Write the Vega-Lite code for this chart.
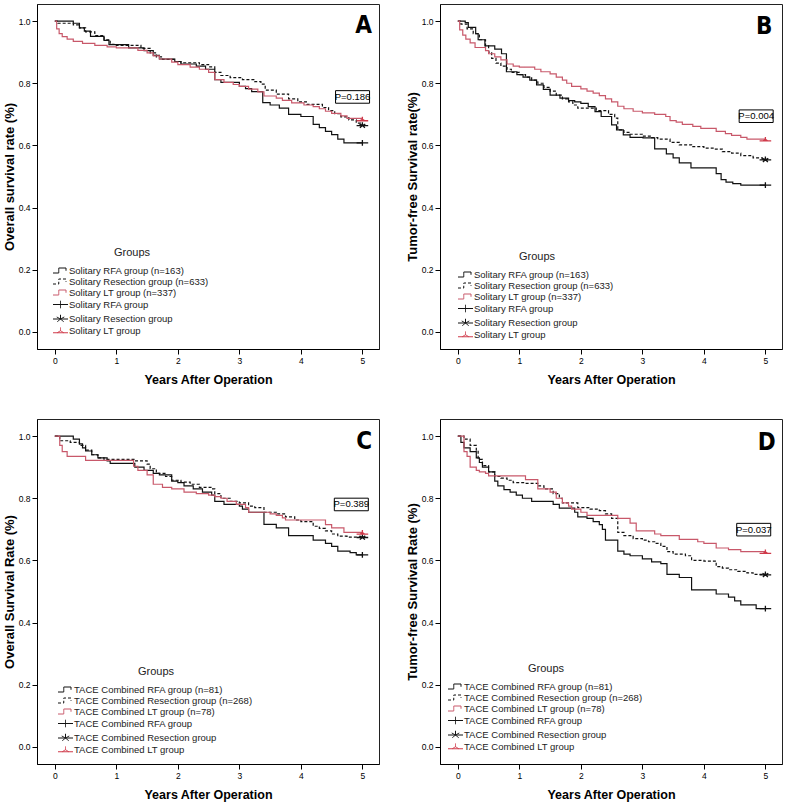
{
"$schema":"https://vega.github.io/schema/vega-lite/v6.json",
"background":"white",
"padding":{"left":2,"top":3,"right":0,"bottom":0},
"bounds":"flush",
"columns":2,
"spacing":{"row":70,"column":61},
"resolve":{"scale":{"color":"independent","shape":"independent","strokeDash":"independent","x":"independent","y":"independent"},"legend":{"color":"independent","shape":"independent","strokeDash":"independent"}},
"datasets":{
"notes":[{"p":"A","pv":"P=0.186","letter":"A"},{"p":"B","pv":"P=0.004","letter":"B"},{"p":"C","pv":"P=0.389","letter":"C"},{"p":"D","pv":"P=0.037","letter":"D"}],
"ends":[
{"p":"A","g":"RFA","t":5,"s":0.608},{"p":"A","g":"Res","t":5,"s":0.665},{"p":"A","g":"LT","t":5,"s":0.685},
{"p":"B","g":"RFA","t":5,"s":0.472},{"p":"B","g":"Res","t":5,"s":0.555},{"p":"B","g":"LT","t":5,"s":0.62},
{"p":"C","g":"RFA","t":5,"s":0.618},{"p":"C","g":"Res","t":5,"s":0.675},{"p":"C","g":"LT","t":5,"s":0.69},
{"p":"D","g":"RFA","t":5,"s":0.445},{"p":"D","g":"Res","t":5,"s":0.555},{"p":"D","g":"LT","t":5,"s":0.628}],
"km":[
{"p":"A","g":"RFA_n","t":0,"s":1},{"p":"A","g":"RFA_n","t":0.3,"s":0.993},{"p":"A","g":"RFA_n","t":0.4,"s":0.978},{"p":"A","g":"RFA_n","t":0.48,"s":0.968},{"p":"A","g":"RFA_n","t":0.58,"s":0.951},{"p":"A","g":"RFA_n","t":0.8,"s":0.938},{"p":"A","g":"RFA_n","t":0.88,"s":0.924},{"p":"A","g":"RFA_n","t":1.2,"s":0.914},{"p":"A","g":"RFA_n","t":1.45,"s":0.905},{"p":"A","g":"RFA_n","t":1.6,"s":0.89},{"p":"A","g":"RFA_n","t":1.7,"s":0.878},{"p":"A","g":"RFA_n","t":1.95,"s":0.87},{"p":"A","g":"RFA_n","t":2.05,"s":0.862},{"p":"A","g":"RFA_n","t":2.3,"s":0.855},{"p":"A","g":"RFA_n","t":2.45,"s":0.845},{"p":"A","g":"RFA_n","t":2.6,"s":0.812},{"p":"A","g":"RFA_n","t":2.7,"s":0.803},{"p":"A","g":"RFA_n","t":3.0,"s":0.79},{"p":"A","g":"RFA_n","t":3.1,"s":0.783},{"p":"A","g":"RFA_n","t":3.2,"s":0.773},{"p":"A","g":"RFA_n","t":3.38,"s":0.738},{"p":"A","g":"RFA_n","t":3.5,"s":0.73},{"p":"A","g":"RFA_n","t":3.65,"s":0.72},{"p":"A","g":"RFA_n","t":3.8,"s":0.7},{"p":"A","g":"RFA_n","t":4.0,"s":0.693},{"p":"A","g":"RFA_n","t":4.2,"s":0.668},{"p":"A","g":"RFA_n","t":4.3,"s":0.657},{"p":"A","g":"RFA_n","t":4.4,"s":0.645},{"p":"A","g":"RFA_n","t":4.5,"s":0.635},{"p":"A","g":"RFA_n","t":4.6,"s":0.62},{"p":"A","g":"RFA_n","t":4.7,"s":0.608},{"p":"A","g":"RFA_n","t":5.0,"s":0.608},
{"p":"A","g":"Res_n","t":0,"s":1},{"p":"A","g":"Res_n","t":0.05,"s":0.993},{"p":"A","g":"Res_n","t":0.3,"s":0.988},{"p":"A","g":"Res_n","t":0.4,"s":0.978},{"p":"A","g":"Res_n","t":0.5,"s":0.965},{"p":"A","g":"Res_n","t":0.65,"s":0.953},{"p":"A","g":"Res_n","t":0.8,"s":0.94},{"p":"A","g":"Res_n","t":0.9,"s":0.925},{"p":"A","g":"Res_n","t":1.0,"s":0.922},{"p":"A","g":"Res_n","t":1.4,"s":0.912},{"p":"A","g":"Res_n","t":1.55,"s":0.898},{"p":"A","g":"Res_n","t":1.65,"s":0.885},{"p":"A","g":"Res_n","t":1.75,"s":0.877},{"p":"A","g":"Res_n","t":1.95,"s":0.87},{"p":"A","g":"Res_n","t":2.05,"s":0.866},{"p":"A","g":"Res_n","t":2.35,"s":0.86},{"p":"A","g":"Res_n","t":2.5,"s":0.853},{"p":"A","g":"Res_n","t":2.6,"s":0.835},{"p":"A","g":"Res_n","t":2.7,"s":0.825},{"p":"A","g":"Res_n","t":2.85,"s":0.818},{"p":"A","g":"Res_n","t":3.05,"s":0.812},{"p":"A","g":"Res_n","t":3.25,"s":0.805},{"p":"A","g":"Res_n","t":3.35,"s":0.797},{"p":"A","g":"Res_n","t":3.42,"s":0.778},{"p":"A","g":"Res_n","t":3.6,"s":0.765},{"p":"A","g":"Res_n","t":3.8,"s":0.75},{"p":"A","g":"Res_n","t":3.95,"s":0.74},{"p":"A","g":"Res_n","t":4.1,"s":0.732},{"p":"A","g":"Res_n","t":4.35,"s":0.722},{"p":"A","g":"Res_n","t":4.45,"s":0.712},{"p":"A","g":"Res_n","t":4.55,"s":0.702},{"p":"A","g":"Res_n","t":4.65,"s":0.692},{"p":"A","g":"Res_n","t":4.78,"s":0.682},{"p":"A","g":"Res_n","t":4.9,"s":0.672},{"p":"A","g":"Res_n","t":4.97,"s":0.665},{"p":"A","g":"Res_n","t":5.0,"s":0.665},
{"p":"A","g":"LT_n","t":0,"s":1},{"p":"A","g":"LT_n","t":0.03,"s":0.975},{"p":"A","g":"LT_n","t":0.07,"s":0.96},{"p":"A","g":"LT_n","t":0.12,"s":0.95},{"p":"A","g":"LT_n","t":0.2,"s":0.942},{"p":"A","g":"LT_n","t":0.3,"s":0.935},{"p":"A","g":"LT_n","t":0.45,"s":0.928},{"p":"A","g":"LT_n","t":0.65,"s":0.922},{"p":"A","g":"LT_n","t":0.85,"s":0.917},{"p":"A","g":"LT_n","t":1.0,"s":0.914},{"p":"A","g":"LT_n","t":1.35,"s":0.906},{"p":"A","g":"LT_n","t":1.5,"s":0.898},{"p":"A","g":"LT_n","t":1.6,"s":0.888},{"p":"A","g":"LT_n","t":1.7,"s":0.878},{"p":"A","g":"LT_n","t":1.9,"s":0.868},{"p":"A","g":"LT_n","t":2.0,"s":0.86},{"p":"A","g":"LT_n","t":2.2,"s":0.852},{"p":"A","g":"LT_n","t":2.35,"s":0.845},{"p":"A","g":"LT_n","t":2.5,"s":0.835},{"p":"A","g":"LT_n","t":2.6,"s":0.812},{"p":"A","g":"LT_n","t":2.75,"s":0.803},{"p":"A","g":"LT_n","t":2.9,"s":0.796},{"p":"A","g":"LT_n","t":3.0,"s":0.79},{"p":"A","g":"LT_n","t":3.15,"s":0.781},{"p":"A","g":"LT_n","t":3.3,"s":0.772},{"p":"A","g":"LT_n","t":3.4,"s":0.759},{"p":"A","g":"LT_n","t":3.6,"s":0.752},{"p":"A","g":"LT_n","t":3.7,"s":0.745},{"p":"A","g":"LT_n","t":3.85,"s":0.737},{"p":"A","g":"LT_n","t":4.05,"s":0.73},{"p":"A","g":"LT_n","t":4.2,"s":0.725},{"p":"A","g":"LT_n","t":4.3,"s":0.718},{"p":"A","g":"LT_n","t":4.4,"s":0.71},{"p":"A","g":"LT_n","t":4.5,"s":0.703},{"p":"A","g":"LT_n","t":4.65,"s":0.695},{"p":"A","g":"LT_n","t":4.75,"s":0.687},{"p":"A","g":"LT_n","t":5.0,"s":0.685},
{"p":"B","g":"RFA_n","t":0,"s":1},{"p":"B","g":"RFA_n","t":0.12,"s":0.995},{"p":"B","g":"RFA_n","t":0.17,"s":0.98},{"p":"B","g":"RFA_n","t":0.29,"s":0.96},{"p":"B","g":"RFA_n","t":0.33,"s":0.94},{"p":"B","g":"RFA_n","t":0.44,"s":0.92},{"p":"B","g":"RFA_n","t":0.6,"s":0.91},{"p":"B","g":"RFA_n","t":0.71,"s":0.895},{"p":"B","g":"RFA_n","t":0.79,"s":0.837},{"p":"B","g":"RFA_n","t":0.96,"s":0.828},{"p":"B","g":"RFA_n","t":1.06,"s":0.82},{"p":"B","g":"RFA_n","t":1.17,"s":0.81},{"p":"B","g":"RFA_n","t":1.28,"s":0.795},{"p":"B","g":"RFA_n","t":1.39,"s":0.78},{"p":"B","g":"RFA_n","t":1.5,"s":0.762},{"p":"B","g":"RFA_n","t":1.66,"s":0.752},{"p":"B","g":"RFA_n","t":1.8,"s":0.744},{"p":"B","g":"RFA_n","t":1.9,"s":0.74},{"p":"B","g":"RFA_n","t":2.0,"s":0.735},{"p":"B","g":"RFA_n","t":2.12,"s":0.725},{"p":"B","g":"RFA_n","t":2.23,"s":0.709},{"p":"B","g":"RFA_n","t":2.33,"s":0.693},{"p":"B","g":"RFA_n","t":2.5,"s":0.666},{"p":"B","g":"RFA_n","t":2.58,"s":0.65},{"p":"B","g":"RFA_n","t":2.69,"s":0.634},{"p":"B","g":"RFA_n","t":2.8,"s":0.626},{"p":"B","g":"RFA_n","t":3.01,"s":0.624},{"p":"B","g":"RFA_n","t":3.2,"s":0.589},{"p":"B","g":"RFA_n","t":3.39,"s":0.573},{"p":"B","g":"RFA_n","t":3.5,"s":0.56},{"p":"B","g":"RFA_n","t":3.6,"s":0.544},{"p":"B","g":"RFA_n","t":3.79,"s":0.528},{"p":"B","g":"RFA_n","t":4.2,"s":0.509},{"p":"B","g":"RFA_n","t":4.28,"s":0.49},{"p":"B","g":"RFA_n","t":4.36,"s":0.482},{"p":"B","g":"RFA_n","t":4.47,"s":0.477},{"p":"B","g":"RFA_n","t":4.6,"s":0.472},{"p":"B","g":"RFA_n","t":5.0,"s":0.472},
{"p":"B","g":"Res_n","t":0,"s":1},{"p":"B","g":"Res_n","t":0.05,"s":0.99},{"p":"B","g":"Res_n","t":0.15,"s":0.975},{"p":"B","g":"Res_n","t":0.25,"s":0.96},{"p":"B","g":"Res_n","t":0.35,"s":0.94},{"p":"B","g":"Res_n","t":0.45,"s":0.92},{"p":"B","g":"Res_n","t":0.5,"s":0.9},{"p":"B","g":"Res_n","t":0.55,"s":0.88},{"p":"B","g":"Res_n","t":0.62,"s":0.865},{"p":"B","g":"Res_n","t":0.7,"s":0.855},{"p":"B","g":"Res_n","t":0.8,"s":0.845},{"p":"B","g":"Res_n","t":0.87,"s":0.835},{"p":"B","g":"Res_n","t":1.0,"s":0.828},{"p":"B","g":"Res_n","t":1.1,"s":0.82},{"p":"B","g":"Res_n","t":1.2,"s":0.81},{"p":"B","g":"Res_n","t":1.3,"s":0.8},{"p":"B","g":"Res_n","t":1.4,"s":0.787},{"p":"B","g":"Res_n","t":1.5,"s":0.775},{"p":"B","g":"Res_n","t":1.6,"s":0.762},{"p":"B","g":"Res_n","t":1.7,"s":0.75},{"p":"B","g":"Res_n","t":1.8,"s":0.74},{"p":"B","g":"Res_n","t":1.87,"s":0.73},{"p":"B","g":"Res_n","t":1.95,"s":0.72},{"p":"B","g":"Res_n","t":2.25,"s":0.712},{"p":"B","g":"Res_n","t":2.45,"s":0.7},{"p":"B","g":"Res_n","t":2.55,"s":0.688},{"p":"B","g":"Res_n","t":2.6,"s":0.65},{"p":"B","g":"Res_n","t":2.7,"s":0.642},{"p":"B","g":"Res_n","t":2.8,"s":0.636},{"p":"B","g":"Res_n","t":3.0,"s":0.63},{"p":"B","g":"Res_n","t":3.15,"s":0.625},{"p":"B","g":"Res_n","t":3.25,"s":0.62},{"p":"B","g":"Res_n","t":3.45,"s":0.61},{"p":"B","g":"Res_n","t":3.6,"s":0.602},{"p":"B","g":"Res_n","t":3.8,"s":0.596},{"p":"B","g":"Res_n","t":4.0,"s":0.591},{"p":"B","g":"Res_n","t":4.15,"s":0.588},{"p":"B","g":"Res_n","t":4.3,"s":0.58},{"p":"B","g":"Res_n","t":4.45,"s":0.575},{"p":"B","g":"Res_n","t":4.6,"s":0.567},{"p":"B","g":"Res_n","t":4.8,"s":0.56},{"p":"B","g":"Res_n","t":4.95,"s":0.555},{"p":"B","g":"Res_n","t":5.0,"s":0.555},
{"p":"B","g":"LT_n","t":0,"s":1},{"p":"B","g":"LT_n","t":0.03,"s":0.972},{"p":"B","g":"LT_n","t":0.08,"s":0.955},{"p":"B","g":"LT_n","t":0.13,"s":0.942},{"p":"B","g":"LT_n","t":0.2,"s":0.93},{"p":"B","g":"LT_n","t":0.28,"s":0.915},{"p":"B","g":"LT_n","t":0.45,"s":0.905},{"p":"B","g":"LT_n","t":0.5,"s":0.895},{"p":"B","g":"LT_n","t":0.6,"s":0.885},{"p":"B","g":"LT_n","t":0.7,"s":0.875},{"p":"B","g":"LT_n","t":0.8,"s":0.862},{"p":"B","g":"LT_n","t":0.9,"s":0.855},{"p":"B","g":"LT_n","t":1.0,"s":0.852},{"p":"B","g":"LT_n","t":1.25,"s":0.845},{"p":"B","g":"LT_n","t":1.35,"s":0.837},{"p":"B","g":"LT_n","t":1.5,"s":0.83},{"p":"B","g":"LT_n","t":1.6,"s":0.82},{"p":"B","g":"LT_n","t":1.7,"s":0.81},{"p":"B","g":"LT_n","t":1.77,"s":0.8},{"p":"B","g":"LT_n","t":1.85,"s":0.79},{"p":"B","g":"LT_n","t":2.0,"s":0.782},{"p":"B","g":"LT_n","t":2.1,"s":0.775},{"p":"B","g":"LT_n","t":2.2,"s":0.768},{"p":"B","g":"LT_n","t":2.3,"s":0.76},{"p":"B","g":"LT_n","t":2.4,"s":0.75},{"p":"B","g":"LT_n","t":2.5,"s":0.74},{"p":"B","g":"LT_n","t":2.6,"s":0.726},{"p":"B","g":"LT_n","t":2.7,"s":0.718},{"p":"B","g":"LT_n","t":2.85,"s":0.71},{"p":"B","g":"LT_n","t":3.0,"s":0.705},{"p":"B","g":"LT_n","t":3.2,"s":0.7},{"p":"B","g":"LT_n","t":3.38,"s":0.693},{"p":"B","g":"LT_n","t":3.45,"s":0.68},{"p":"B","g":"LT_n","t":3.55,"s":0.675},{"p":"B","g":"LT_n","t":3.65,"s":0.668},{"p":"B","g":"LT_n","t":3.82,"s":0.661},{"p":"B","g":"LT_n","t":3.95,"s":0.655},{"p":"B","g":"LT_n","t":4.2,"s":0.645},{"p":"B","g":"LT_n","t":4.35,"s":0.638},{"p":"B","g":"LT_n","t":4.45,"s":0.632},{"p":"B","g":"LT_n","t":4.6,"s":0.626},{"p":"B","g":"LT_n","t":4.7,"s":0.62},{"p":"B","g":"LT_n","t":5.0,"s":0.62},
{"p":"C","g":"RFA_n","t":0,"s":1},{"p":"C","g":"RFA_n","t":0.3,"s":0.99},{"p":"C","g":"RFA_n","t":0.4,"s":0.975},{"p":"C","g":"RFA_n","t":0.45,"s":0.962},{"p":"C","g":"RFA_n","t":0.5,"s":0.952},{"p":"C","g":"RFA_n","t":0.6,"s":0.94},{"p":"C","g":"RFA_n","t":0.7,"s":0.93},{"p":"C","g":"RFA_n","t":0.85,"s":0.92},{"p":"C","g":"RFA_n","t":0.9,"s":0.912},{"p":"C","g":"RFA_n","t":1.3,"s":0.9},{"p":"C","g":"RFA_n","t":1.45,"s":0.89},{"p":"C","g":"RFA_n","t":1.6,"s":0.88},{"p":"C","g":"RFA_n","t":1.7,"s":0.875},{"p":"C","g":"RFA_n","t":1.9,"s":0.855},{"p":"C","g":"RFA_n","t":2.0,"s":0.85},{"p":"C","g":"RFA_n","t":2.1,"s":0.84},{"p":"C","g":"RFA_n","t":2.25,"s":0.83},{"p":"C","g":"RFA_n","t":2.4,"s":0.82},{"p":"C","g":"RFA_n","t":2.55,"s":0.81},{"p":"C","g":"RFA_n","t":2.6,"s":0.79},{"p":"C","g":"RFA_n","t":2.75,"s":0.78},{"p":"C","g":"RFA_n","t":3.0,"s":0.775},{"p":"C","g":"RFA_n","t":3.05,"s":0.765},{"p":"C","g":"RFA_n","t":3.15,"s":0.755},{"p":"C","g":"RFA_n","t":3.4,"s":0.716},{"p":"C","g":"RFA_n","t":3.6,"s":0.705},{"p":"C","g":"RFA_n","t":3.8,"s":0.68},{"p":"C","g":"RFA_n","t":4.2,"s":0.665},{"p":"C","g":"RFA_n","t":4.4,"s":0.655},{"p":"C","g":"RFA_n","t":4.5,"s":0.645},{"p":"C","g":"RFA_n","t":4.6,"s":0.63},{"p":"C","g":"RFA_n","t":4.8,"s":0.625},{"p":"C","g":"RFA_n","t":4.9,"s":0.618},{"p":"C","g":"RFA_n","t":5.0,"s":0.618},
{"p":"C","g":"Res_n","t":0,"s":1},{"p":"C","g":"Res_n","t":0.08,"s":0.985},{"p":"C","g":"Res_n","t":0.25,"s":0.98},{"p":"C","g":"Res_n","t":0.4,"s":0.97},{"p":"C","g":"Res_n","t":0.5,"s":0.955},{"p":"C","g":"Res_n","t":0.6,"s":0.94},{"p":"C","g":"Res_n","t":0.7,"s":0.93},{"p":"C","g":"Res_n","t":0.8,"s":0.925},{"p":"C","g":"Res_n","t":1.3,"s":0.92},{"p":"C","g":"Res_n","t":1.5,"s":0.91},{"p":"C","g":"Res_n","t":1.55,"s":0.895},{"p":"C","g":"Res_n","t":1.65,"s":0.88},{"p":"C","g":"Res_n","t":1.8,"s":0.87},{"p":"C","g":"Res_n","t":1.9,"s":0.858},{"p":"C","g":"Res_n","t":2.05,"s":0.852},{"p":"C","g":"Res_n","t":2.2,"s":0.845},{"p":"C","g":"Res_n","t":2.35,"s":0.835},{"p":"C","g":"Res_n","t":2.55,"s":0.83},{"p":"C","g":"Res_n","t":2.6,"s":0.815},{"p":"C","g":"Res_n","t":2.7,"s":0.8},{"p":"C","g":"Res_n","t":2.85,"s":0.79},{"p":"C","g":"Res_n","t":3.0,"s":0.785},{"p":"C","g":"Res_n","t":3.15,"s":0.775},{"p":"C","g":"Res_n","t":3.25,"s":0.77},{"p":"C","g":"Res_n","t":3.4,"s":0.755},{"p":"C","g":"Res_n","t":3.6,"s":0.75},{"p":"C","g":"Res_n","t":3.75,"s":0.74},{"p":"C","g":"Res_n","t":3.9,"s":0.73},{"p":"C","g":"Res_n","t":4.0,"s":0.725},{"p":"C","g":"Res_n","t":4.2,"s":0.71},{"p":"C","g":"Res_n","t":4.3,"s":0.703},{"p":"C","g":"Res_n","t":4.4,"s":0.695},{"p":"C","g":"Res_n","t":4.5,"s":0.685},{"p":"C","g":"Res_n","t":4.6,"s":0.678},{"p":"C","g":"Res_n","t":4.75,"s":0.675},{"p":"C","g":"Res_n","t":5.0,"s":0.675},
{"p":"C","g":"LT_n","t":0,"s":1},{"p":"C","g":"LT_n","t":0.08,"s":0.97},{"p":"C","g":"LT_n","t":0.12,"s":0.95},{"p":"C","g":"LT_n","t":0.2,"s":0.935},{"p":"C","g":"LT_n","t":0.5,"s":0.922},{"p":"C","g":"LT_n","t":1.28,"s":0.903},{"p":"C","g":"LT_n","t":1.35,"s":0.89},{"p":"C","g":"LT_n","t":1.5,"s":0.875},{"p":"C","g":"LT_n","t":1.6,"s":0.845},{"p":"C","g":"LT_n","t":1.75,"s":0.835},{"p":"C","g":"LT_n","t":1.9,"s":0.83},{"p":"C","g":"LT_n","t":2.1,"s":0.82},{"p":"C","g":"LT_n","t":2.3,"s":0.815},{"p":"C","g":"LT_n","t":2.5,"s":0.81},{"p":"C","g":"LT_n","t":2.6,"s":0.805},{"p":"C","g":"LT_n","t":2.7,"s":0.8},{"p":"C","g":"LT_n","t":2.8,"s":0.79},{"p":"C","g":"LT_n","t":2.95,"s":0.78},{"p":"C","g":"LT_n","t":3.1,"s":0.77},{"p":"C","g":"LT_n","t":3.15,"s":0.755},{"p":"C","g":"LT_n","t":3.5,"s":0.75},{"p":"C","g":"LT_n","t":3.6,"s":0.745},{"p":"C","g":"LT_n","t":3.7,"s":0.737},{"p":"C","g":"LT_n","t":3.75,"s":0.73},{"p":"C","g":"LT_n","t":4.4,"s":0.715},{"p":"C","g":"LT_n","t":4.5,"s":0.705},{"p":"C","g":"LT_n","t":4.7,"s":0.69},{"p":"C","g":"LT_n","t":5.0,"s":0.69},
{"p":"D","g":"RFA_n","t":0,"s":1},{"p":"D","g":"RFA_n","t":0.05,"s":0.98},{"p":"D","g":"RFA_n","t":0.1,"s":0.962},{"p":"D","g":"RFA_n","t":0.2,"s":0.95},{"p":"D","g":"RFA_n","t":0.3,"s":0.93},{"p":"D","g":"RFA_n","t":0.35,"s":0.915},{"p":"D","g":"RFA_n","t":0.4,"s":0.9},{"p":"D","g":"RFA_n","t":0.5,"s":0.885},{"p":"D","g":"RFA_n","t":0.6,"s":0.855},{"p":"D","g":"RFA_n","t":0.65,"s":0.84},{"p":"D","g":"RFA_n","t":0.75,"s":0.828},{"p":"D","g":"RFA_n","t":0.85,"s":0.82},{"p":"D","g":"RFA_n","t":0.95,"s":0.81},{"p":"D","g":"RFA_n","t":1.05,"s":0.8},{"p":"D","g":"RFA_n","t":1.2,"s":0.79},{"p":"D","g":"RFA_n","t":1.55,"s":0.78},{"p":"D","g":"RFA_n","t":1.65,"s":0.768},{"p":"D","g":"RFA_n","t":1.9,"s":0.755},{"p":"D","g":"RFA_n","t":1.95,"s":0.74},{"p":"D","g":"RFA_n","t":2.1,"s":0.735},{"p":"D","g":"RFA_n","t":2.2,"s":0.725},{"p":"D","g":"RFA_n","t":2.3,"s":0.715},{"p":"D","g":"RFA_n","t":2.35,"s":0.7},{"p":"D","g":"RFA_n","t":2.4,"s":0.665},{"p":"D","g":"RFA_n","t":2.6,"s":0.63},{"p":"D","g":"RFA_n","t":2.7,"s":0.62},{"p":"D","g":"RFA_n","t":2.8,"s":0.615},{"p":"D","g":"RFA_n","t":3.0,"s":0.605},{"p":"D","g":"RFA_n","t":3.15,"s":0.595},{"p":"D","g":"RFA_n","t":3.3,"s":0.59},{"p":"D","g":"RFA_n","t":3.4,"s":0.555},{"p":"D","g":"RFA_n","t":3.6,"s":0.545},{"p":"D","g":"RFA_n","t":3.8,"s":0.505},{"p":"D","g":"RFA_n","t":4.2,"s":0.492},{"p":"D","g":"RFA_n","t":4.4,"s":0.482},{"p":"D","g":"RFA_n","t":4.5,"s":0.47},{"p":"D","g":"RFA_n","t":4.6,"s":0.457},{"p":"D","g":"RFA_n","t":4.85,"s":0.445},{"p":"D","g":"RFA_n","t":5.0,"s":0.445},
{"p":"D","g":"Res_n","t":0,"s":1},{"p":"D","g":"Res_n","t":0.1,"s":0.99},{"p":"D","g":"Res_n","t":0.2,"s":0.97},{"p":"D","g":"Res_n","t":0.3,"s":0.955},{"p":"D","g":"Res_n","t":0.33,"s":0.925},{"p":"D","g":"Res_n","t":0.4,"s":0.905},{"p":"D","g":"Res_n","t":0.5,"s":0.885},{"p":"D","g":"Res_n","t":0.6,"s":0.87},{"p":"D","g":"Res_n","t":0.7,"s":0.865},{"p":"D","g":"Res_n","t":0.8,"s":0.858},{"p":"D","g":"Res_n","t":0.9,"s":0.85},{"p":"D","g":"Res_n","t":1.1,"s":0.848},{"p":"D","g":"Res_n","t":1.3,"s":0.84},{"p":"D","g":"Res_n","t":1.4,"s":0.83},{"p":"D","g":"Res_n","t":1.55,"s":0.815},{"p":"D","g":"Res_n","t":1.65,"s":0.8},{"p":"D","g":"Res_n","t":1.7,"s":0.785},{"p":"D","g":"Res_n","t":1.95,"s":0.77},{"p":"D","g":"Res_n","t":2.15,"s":0.765},{"p":"D","g":"Res_n","t":2.3,"s":0.76},{"p":"D","g":"Res_n","t":2.4,"s":0.75},{"p":"D","g":"Res_n","t":2.5,"s":0.735},{"p":"D","g":"Res_n","t":2.6,"s":0.69},{"p":"D","g":"Res_n","t":2.7,"s":0.68},{"p":"D","g":"Res_n","t":2.85,"s":0.67},{"p":"D","g":"Res_n","t":3.0,"s":0.665},{"p":"D","g":"Res_n","t":3.1,"s":0.66},{"p":"D","g":"Res_n","t":3.2,"s":0.655},{"p":"D","g":"Res_n","t":3.3,"s":0.645},{"p":"D","g":"Res_n","t":3.4,"s":0.628},{"p":"D","g":"Res_n","t":3.5,"s":0.62},{"p":"D","g":"Res_n","t":3.7,"s":0.615},{"p":"D","g":"Res_n","t":3.8,"s":0.6},{"p":"D","g":"Res_n","t":4.0,"s":0.598},{"p":"D","g":"Res_n","t":4.2,"s":0.58},{"p":"D","g":"Res_n","t":4.3,"s":0.575},{"p":"D","g":"Res_n","t":4.4,"s":0.57},{"p":"D","g":"Res_n","t":4.55,"s":0.565},{"p":"D","g":"Res_n","t":4.7,"s":0.56},{"p":"D","g":"Res_n","t":4.8,"s":0.555},{"p":"D","g":"Res_n","t":5.0,"s":0.555},
{"p":"D","g":"LT_n","t":0,"s":1},{"p":"D","g":"LT_n","t":0.1,"s":0.95},{"p":"D","g":"LT_n","t":0.15,"s":0.935},{"p":"D","g":"LT_n","t":0.2,"s":0.9},{"p":"D","g":"LT_n","t":0.3,"s":0.89},{"p":"D","g":"LT_n","t":0.35,"s":0.885},{"p":"D","g":"LT_n","t":0.45,"s":0.88},{"p":"D","g":"LT_n","t":0.5,"s":0.872},{"p":"D","g":"LT_n","t":1.1,"s":0.86},{"p":"D","g":"LT_n","t":1.3,"s":0.83},{"p":"D","g":"LT_n","t":1.5,"s":0.82},{"p":"D","g":"LT_n","t":1.6,"s":0.8},{"p":"D","g":"LT_n","t":1.7,"s":0.785},{"p":"D","g":"LT_n","t":1.8,"s":0.775},{"p":"D","g":"LT_n","t":1.85,"s":0.765},{"p":"D","g":"LT_n","t":2.0,"s":0.755},{"p":"D","g":"LT_n","t":2.1,"s":0.745},{"p":"D","g":"LT_n","t":2.6,"s":0.735},{"p":"D","g":"LT_n","t":2.8,"s":0.72},{"p":"D","g":"LT_n","t":2.9,"s":0.695},{"p":"D","g":"LT_n","t":3.2,"s":0.685},{"p":"D","g":"LT_n","t":3.3,"s":0.68},{"p":"D","g":"LT_n","t":3.6,"s":0.668},{"p":"D","g":"LT_n","t":3.9,"s":0.66},{"p":"D","g":"LT_n","t":4.0,"s":0.655},{"p":"D","g":"LT_n","t":4.2,"s":0.64},{"p":"D","g":"LT_n","t":4.4,"s":0.635},{"p":"D","g":"LT_n","t":4.6,"s":0.628},{"p":"D","g":"LT_n","t":5.0,"s":0.628}
]},
"concat":[
{"width":342,"height":345,
 "layer":[
  {"data":{"name":"km"},"transform":[{"filter":"datum.p==='A'"}],"mark":{"type":"line","interpolate":"step-after","strokeWidth":1.2},
   "encoding":{"x":{"field":"t","type":"quantitative","scale":{"domain":[-0.29,5.27],"nice":false,"zero":false},"axis":{"values":[0,1,2,3,4,5],"format":"d","title":"Years After Operation"}},
    "y":{"field":"s","type":"quantitative","scale":{"domain":[-0.055,1.055],"nice":false,"zero":false},"axis":{"values":[0,0.2,0.4,0.6,0.8,1],"format":".1f","title":"Overall survival rate (%)"}},
    "color":{"field":"g","type":"nominal","scale":{"domain":["RFA_n","Res_n","LT_n","RFA","Res","LT"],"range":["#111111","#111111","#c8586a","#111111","#111111","#d03a4a"]},"legend":{"title":"Groups","orient":"none","legendX":18,"legendY":243,"labelExpr":"datum.value=='RFA_n'?'Solitary RFA group (n=163)':datum.value=='Res_n'?'Solitary Resection group (n=633)':datum.value=='LT_n'?'Solitary LT group (n=337)':datum.value=='RFA'?'Solitary RFA group':datum.value=='Res'?'Solitary Resection group':'Solitary LT group'"}},
    "strokeDash":{"field":"g","type":"nominal","scale":{"domain":["RFA_n","Res_n","LT_n","RFA","Res","LT"],"range":[[1,0],[3,2],[1,0],[1,0],[1,0],[1,0]]},"legend":{"title":"Groups","orient":"none","legendX":18,"legendY":243,"labelExpr":"datum.value=='RFA_n'?'Solitary RFA group (n=163)':datum.value=='Res_n'?'Solitary Resection group (n=633)':datum.value=='LT_n'?'Solitary LT group (n=337)':datum.value=='RFA'?'Solitary RFA group':datum.value=='Res'?'Solitary Resection group':'Solitary LT group'"}}}},
  {"data":{"name":"ends"},"transform":[{"filter":"datum.p==='A'"}],"mark":{"type":"point","filled":false,"size":60,"strokeWidth":1.3,"opacity":1},
   "encoding":{"x":{"field":"t","type":"quantitative"},"y":{"field":"s","type":"quantitative"},
    "color":{"field":"g","type":"nominal","scale":{"domain":["RFA_n","Res_n","LT_n","RFA","Res","LT"],"range":["#111111","#111111","#c8586a","#111111","#111111","#d03a4a"]},"legend":{"title":"Groups","orient":"none","legendX":18,"legendY":243,"labelExpr":"datum.value=='RFA_n'?'Solitary RFA group (n=163)':datum.value=='Res_n'?'Solitary Resection group (n=633)':datum.value=='LT_n'?'Solitary LT group (n=337)':datum.value=='RFA'?'Solitary RFA group':datum.value=='Res'?'Solitary Resection group':'Solitary LT group'"}},
    "shape":{"field":"g","type":"nominal","scale":{"domain":["RFA_n","Res_n","LT_n","RFA","Res","LT"],"range":["M-1.5,0.5H-0.35V-0.5H1.1V0.05","M-1.5,0.5H-0.35V-0.5H1.1V0.05","M-1.5,0.5H-0.35V-0.5H1.1V0.05","M-1.5,0H1.5M0,-0.75V0.75","M-1.5,0.1H1.5M0,0.1V-0.75M0,0.1L-0.65,0.65M0,0.1L0.65,0.65M0,0.1L-0.75,-0.3M0,0.1L0.75,-0.3","M-1.5,0.45H1.5M0,-0.6V0.05M0,0.05L-0.65,0.45M0,0.05L0.65,0.45"]},"legend":{"title":"Groups","orient":"none","legendX":18,"legendY":243,"labelExpr":"datum.value=='RFA_n'?'Solitary RFA group (n=163)':datum.value=='Res_n'?'Solitary Resection group (n=633)':datum.value=='LT_n'?'Solitary LT group (n=337)':datum.value=='RFA'?'Solitary RFA group':datum.value=='Res'?'Solitary Resection group':'Solitary LT group'"}}}},
  {"data":{"name":"notes"},"transform":[{"filter":"datum.p==='A'"}],"mark":{"type":"point","shape":"M-1,-0.37H1V0.37H-1Z","size":1156,"filled":false,"color":"#000","strokeWidth":1,"opacity":1},"encoding":{"x":{"datum":4.84,"type":"quantitative"},"y":{"datum":0.756,"type":"quantitative"}}},
  {"data":{"name":"notes"},"transform":[{"filter":"datum.p==='A'"}],"mark":{"type":"text","fontSize":9.5,"color":"#000"},"encoding":{"x":{"datum":4.84,"type":"quantitative"},"y":{"datum":0.756,"type":"quantitative"},"text":{"field":"pv"}}},
  {"data":{"name":"notes"},"transform":[{"filter":"datum.p==='A'"}],"mark":{"type":"text","fontSize":24,"fontWeight":"bold","font":"DejaVu Sans Condensed","color":"#000"},"encoding":{"x":{"datum":5.02,"type":"quantitative"},"y":{"datum":0.984,"type":"quantitative"},"text":{"field":"letter"}}}
 ]},
{"width":342,"height":345,
 "layer":[
  {"data":{"name":"km"},"transform":[{"filter":"datum.p==='B'"}],"mark":{"type":"line","interpolate":"step-after","strokeWidth":1.2},
   "encoding":{"x":{"field":"t","type":"quantitative","scale":{"domain":[-0.29,5.27],"nice":false,"zero":false},"axis":{"values":[0,1,2,3,4,5],"format":"d","title":"Years After Operation"}},
    "y":{"field":"s","type":"quantitative","scale":{"domain":[-0.055,1.055],"nice":false,"zero":false},"axis":{"values":[0,0.2,0.4,0.6,0.8,1],"format":".1f","title":"Tumor-free Survival rate(%)"}},
    "color":{"field":"g","type":"nominal","scale":{"domain":["RFA_n","Res_n","LT_n","RFA","Res","LT"],"range":["#111111","#111111","#c8586a","#111111","#111111","#d03a4a"]},"legend":{"title":"Groups","orient":"none","legendX":20,"legendY":247,"labelExpr":"datum.value=='RFA_n'?'Solitary RFA group (n=163)':datum.value=='Res_n'?'Solitary Resection group (n=633)':datum.value=='LT_n'?'Solitary LT group (n=337)':datum.value=='RFA'?'Solitary RFA group':datum.value=='Res'?'Solitary Resection group':'Solitary LT group'"}},
    "strokeDash":{"field":"g","type":"nominal","scale":{"domain":["RFA_n","Res_n","LT_n","RFA","Res","LT"],"range":[[1,0],[3,2],[1,0],[1,0],[1,0],[1,0]]},"legend":{"title":"Groups","orient":"none","legendX":20,"legendY":247,"labelExpr":"datum.value=='RFA_n'?'Solitary RFA group (n=163)':datum.value=='Res_n'?'Solitary Resection group (n=633)':datum.value=='LT_n'?'Solitary LT group (n=337)':datum.value=='RFA'?'Solitary RFA group':datum.value=='Res'?'Solitary Resection group':'Solitary LT group'"}}}},
  {"data":{"name":"ends"},"transform":[{"filter":"datum.p==='B'"}],"mark":{"type":"point","filled":false,"size":60,"strokeWidth":1.3,"opacity":1},
   "encoding":{"x":{"field":"t","type":"quantitative"},"y":{"field":"s","type":"quantitative"},
    "color":{"field":"g","type":"nominal","scale":{"domain":["RFA_n","Res_n","LT_n","RFA","Res","LT"],"range":["#111111","#111111","#c8586a","#111111","#111111","#d03a4a"]},"legend":{"title":"Groups","orient":"none","legendX":20,"legendY":247,"labelExpr":"datum.value=='RFA_n'?'Solitary RFA group (n=163)':datum.value=='Res_n'?'Solitary Resection group (n=633)':datum.value=='LT_n'?'Solitary LT group (n=337)':datum.value=='RFA'?'Solitary RFA group':datum.value=='Res'?'Solitary Resection group':'Solitary LT group'"}},
    "shape":{"field":"g","type":"nominal","scale":{"domain":["RFA_n","Res_n","LT_n","RFA","Res","LT"],"range":["M-1.5,0.5H-0.35V-0.5H1.1V0.05","M-1.5,0.5H-0.35V-0.5H1.1V0.05","M-1.5,0.5H-0.35V-0.5H1.1V0.05","M-1.5,0H1.5M0,-0.75V0.75","M-1.5,0.1H1.5M0,0.1V-0.75M0,0.1L-0.65,0.65M0,0.1L0.65,0.65M0,0.1L-0.75,-0.3M0,0.1L0.75,-0.3","M-1.5,0.45H1.5M0,-0.6V0.05M0,0.05L-0.65,0.45M0,0.05L0.65,0.45"]},"legend":{"title":"Groups","orient":"none","legendX":20,"legendY":247,"labelExpr":"datum.value=='RFA_n'?'Solitary RFA group (n=163)':datum.value=='Res_n'?'Solitary Resection group (n=633)':datum.value=='LT_n'?'Solitary LT group (n=337)':datum.value=='RFA'?'Solitary RFA group':datum.value=='Res'?'Solitary Resection group':'Solitary LT group'"}}}},
  {"data":{"name":"notes"},"transform":[{"filter":"datum.p==='B'"}],"mark":{"type":"point","shape":"M-1,-0.37H1V0.37H-1Z","size":1156,"filled":false,"color":"#000","strokeWidth":1,"opacity":1},"encoding":{"x":{"datum":4.85,"type":"quantitative"},"y":{"datum":0.694,"type":"quantitative"}}},
  {"data":{"name":"notes"},"transform":[{"filter":"datum.p==='B'"}],"mark":{"type":"text","fontSize":9.5,"color":"#000"},"encoding":{"x":{"datum":4.85,"type":"quantitative"},"y":{"datum":0.694,"type":"quantitative"},"text":{"field":"pv"}}},
  {"data":{"name":"notes"},"transform":[{"filter":"datum.p==='B'"}],"mark":{"type":"text","fontSize":24,"fontWeight":"bold","font":"DejaVu Sans Condensed","color":"#000"},"encoding":{"x":{"datum":4.98,"type":"quantitative"},"y":{"datum":0.98,"type":"quantitative"},"text":{"field":"letter"}}}
 ]},
{"width":342,"height":345,
 "layer":[
  {"data":{"name":"km"},"transform":[{"filter":"datum.p==='C'"}],"mark":{"type":"line","interpolate":"step-after","strokeWidth":1.2},
   "encoding":{"x":{"field":"t","type":"quantitative","scale":{"domain":[-0.29,5.27],"nice":false,"zero":false},"axis":{"values":[0,1,2,3,4,5],"format":"d","title":"Years After Operation"}},
    "y":{"field":"s","type":"quantitative","scale":{"domain":[-0.055,1.055],"nice":false,"zero":false},"axis":{"values":[0,0.2,0.4,0.6,0.8,1],"format":".1f","title":"Overall Survival Rate (%)"}},
    "color":{"field":"g","type":"nominal","scale":{"domain":["RFA_n","Res_n","LT_n","RFA","Res","LT"],"range":["#111111","#111111","#c8586a","#111111","#111111","#d03a4a"]},"legend":{"title":"Groups","orient":"none","legendX":23,"legendY":247,"labelExpr":"datum.value=='RFA_n'?'TACE Combined RFA group (n=81)':datum.value=='Res_n'?'TACE Combined Resection group (n=268)':datum.value=='LT_n'?'TACE Combined LT group (n=78)':datum.value=='RFA'?'TACE Combined RFA group':datum.value=='Res'?'TACE Combined Resection group':'TACE Combined LT group'"}},
    "strokeDash":{"field":"g","type":"nominal","scale":{"domain":["RFA_n","Res_n","LT_n","RFA","Res","LT"],"range":[[1,0],[3,2],[1,0],[1,0],[1,0],[1,0]]},"legend":{"title":"Groups","orient":"none","legendX":23,"legendY":247,"labelExpr":"datum.value=='RFA_n'?'TACE Combined RFA group (n=81)':datum.value=='Res_n'?'TACE Combined Resection group (n=268)':datum.value=='LT_n'?'TACE Combined LT group (n=78)':datum.value=='RFA'?'TACE Combined RFA group':datum.value=='Res'?'TACE Combined Resection group':'TACE Combined LT group'"}}}},
  {"data":{"name":"ends"},"transform":[{"filter":"datum.p==='C'"}],"mark":{"type":"point","filled":false,"size":60,"strokeWidth":1.3,"opacity":1},
   "encoding":{"x":{"field":"t","type":"quantitative"},"y":{"field":"s","type":"quantitative"},
    "color":{"field":"g","type":"nominal","scale":{"domain":["RFA_n","Res_n","LT_n","RFA","Res","LT"],"range":["#111111","#111111","#c8586a","#111111","#111111","#d03a4a"]},"legend":{"title":"Groups","orient":"none","legendX":23,"legendY":247,"labelExpr":"datum.value=='RFA_n'?'TACE Combined RFA group (n=81)':datum.value=='Res_n'?'TACE Combined Resection group (n=268)':datum.value=='LT_n'?'TACE Combined LT group (n=78)':datum.value=='RFA'?'TACE Combined RFA group':datum.value=='Res'?'TACE Combined Resection group':'TACE Combined LT group'"}},
    "shape":{"field":"g","type":"nominal","scale":{"domain":["RFA_n","Res_n","LT_n","RFA","Res","LT"],"range":["M-1.5,0.5H-0.35V-0.5H1.1V0.05","M-1.5,0.5H-0.35V-0.5H1.1V0.05","M-1.5,0.5H-0.35V-0.5H1.1V0.05","M-1.5,0H1.5M0,-0.75V0.75","M-1.5,0.1H1.5M0,0.1V-0.75M0,0.1L-0.65,0.65M0,0.1L0.65,0.65M0,0.1L-0.75,-0.3M0,0.1L0.75,-0.3","M-1.5,0.45H1.5M0,-0.6V0.05M0,0.05L-0.65,0.45M0,0.05L0.65,0.45"]},"legend":{"title":"Groups","orient":"none","legendX":23,"legendY":247,"labelExpr":"datum.value=='RFA_n'?'TACE Combined RFA group (n=81)':datum.value=='Res_n'?'TACE Combined Resection group (n=268)':datum.value=='LT_n'?'TACE Combined LT group (n=78)':datum.value=='RFA'?'TACE Combined RFA group':datum.value=='Res'?'TACE Combined Resection group':'TACE Combined LT group'"}}}},
  {"data":{"name":"notes"},"transform":[{"filter":"datum.p==='C'"}],"mark":{"type":"point","shape":"M-1,-0.37H1V0.37H-1Z","size":1156,"filled":false,"color":"#000","strokeWidth":1,"opacity":1},"encoding":{"x":{"datum":4.82,"type":"quantitative"},"y":{"datum":0.78,"type":"quantitative"}}},
  {"data":{"name":"notes"},"transform":[{"filter":"datum.p==='C'"}],"mark":{"type":"text","fontSize":9.5,"color":"#000"},"encoding":{"x":{"datum":4.82,"type":"quantitative"},"y":{"datum":0.78,"type":"quantitative"},"text":{"field":"pv"}}},
  {"data":{"name":"notes"},"transform":[{"filter":"datum.p==='C'"}],"mark":{"type":"text","fontSize":24,"fontWeight":"bold","font":"DejaVu Sans Condensed","color":"#000"},"encoding":{"x":{"datum":5.03,"type":"quantitative"},"y":{"datum":0.98,"type":"quantitative"},"text":{"field":"letter"}}}
 ]},
{"width":342,"height":345,
 "layer":[
  {"data":{"name":"km"},"transform":[{"filter":"datum.p==='D'"}],"mark":{"type":"line","interpolate":"step-after","strokeWidth":1.2},
   "encoding":{"x":{"field":"t","type":"quantitative","scale":{"domain":[-0.29,5.27],"nice":false,"zero":false},"axis":{"values":[0,1,2,3,4,5],"format":"d","title":"Years After Operation"}},
    "y":{"field":"s","type":"quantitative","scale":{"domain":[-0.055,1.055],"nice":false,"zero":false},"axis":{"values":[0,0.2,0.4,0.6,0.8,1],"format":".1f","title":"Tumor-free Survival Rate (%)"}},
    "color":{"field":"g","type":"nominal","scale":{"domain":["RFA_n","Res_n","LT_n","RFA","Res","LT"],"range":["#111111","#111111","#c8586a","#111111","#111111","#d03a4a"]},"legend":{"title":"Groups","orient":"none","legendX":10,"legendY":244,"labelExpr":"datum.value=='RFA_n'?'TACE Combined RFA group (n=81)':datum.value=='Res_n'?'TACE Combined Resection group (n=268)':datum.value=='LT_n'?'TACE Combined LT group (n=78)':datum.value=='RFA'?'TACE Combined RFA group':datum.value=='Res'?'TACE Combined Resection group':'TACE Combined LT group'"}},
    "strokeDash":{"field":"g","type":"nominal","scale":{"domain":["RFA_n","Res_n","LT_n","RFA","Res","LT"],"range":[[1,0],[3,2],[1,0],[1,0],[1,0],[1,0]]},"legend":{"title":"Groups","orient":"none","legendX":10,"legendY":244,"labelExpr":"datum.value=='RFA_n'?'TACE Combined RFA group (n=81)':datum.value=='Res_n'?'TACE Combined Resection group (n=268)':datum.value=='LT_n'?'TACE Combined LT group (n=78)':datum.value=='RFA'?'TACE Combined RFA group':datum.value=='Res'?'TACE Combined Resection group':'TACE Combined LT group'"}}}},
  {"data":{"name":"ends"},"transform":[{"filter":"datum.p==='D'"}],"mark":{"type":"point","filled":false,"size":60,"strokeWidth":1.3,"opacity":1},
   "encoding":{"x":{"field":"t","type":"quantitative"},"y":{"field":"s","type":"quantitative"},
    "color":{"field":"g","type":"nominal","scale":{"domain":["RFA_n","Res_n","LT_n","RFA","Res","LT"],"range":["#111111","#111111","#c8586a","#111111","#111111","#d03a4a"]},"legend":{"title":"Groups","orient":"none","legendX":10,"legendY":244,"labelExpr":"datum.value=='RFA_n'?'TACE Combined RFA group (n=81)':datum.value=='Res_n'?'TACE Combined Resection group (n=268)':datum.value=='LT_n'?'TACE Combined LT group (n=78)':datum.value=='RFA'?'TACE Combined RFA group':datum.value=='Res'?'TACE Combined Resection group':'TACE Combined LT group'"}},
    "shape":{"field":"g","type":"nominal","scale":{"domain":["RFA_n","Res_n","LT_n","RFA","Res","LT"],"range":["M-1.5,0.5H-0.35V-0.5H1.1V0.05","M-1.5,0.5H-0.35V-0.5H1.1V0.05","M-1.5,0.5H-0.35V-0.5H1.1V0.05","M-1.5,0H1.5M0,-0.75V0.75","M-1.5,0.1H1.5M0,0.1V-0.75M0,0.1L-0.65,0.65M0,0.1L0.65,0.65M0,0.1L-0.75,-0.3M0,0.1L0.75,-0.3","M-1.5,0.45H1.5M0,-0.6V0.05M0,0.05L-0.65,0.45M0,0.05L0.65,0.45"]},"legend":{"title":"Groups","orient":"none","legendX":10,"legendY":244,"labelExpr":"datum.value=='RFA_n'?'TACE Combined RFA group (n=81)':datum.value=='Res_n'?'TACE Combined Resection group (n=268)':datum.value=='LT_n'?'TACE Combined LT group (n=78)':datum.value=='RFA'?'TACE Combined RFA group':datum.value=='Res'?'TACE Combined Resection group':'TACE Combined LT group'"}}}},
  {"data":{"name":"notes"},"transform":[{"filter":"datum.p==='D'"}],"mark":{"type":"point","shape":"M-1,-0.37H1V0.37H-1Z","size":1156,"filled":false,"color":"#000","strokeWidth":1,"opacity":1},"encoding":{"x":{"datum":4.81,"type":"quantitative"},"y":{"datum":0.699,"type":"quantitative"}}},
  {"data":{"name":"notes"},"transform":[{"filter":"datum.p==='D'"}],"mark":{"type":"text","fontSize":9.5,"color":"#000"},"encoding":{"x":{"datum":4.81,"type":"quantitative"},"y":{"datum":0.699,"type":"quantitative"},"text":{"field":"pv"}}},
  {"data":{"name":"notes"},"transform":[{"filter":"datum.p==='D'"}],"mark":{"type":"text","fontSize":24,"fontWeight":"bold","font":"DejaVu Sans Condensed","color":"#000"},"encoding":{"x":{"datum":5.02,"type":"quantitative"},"y":{"datum":0.977,"type":"quantitative"},"text":{"field":"letter"}}}
 ]}
],
"config":{
 "font":"Liberation Sans",
 "view":{"stroke":"#222","strokeWidth":1},
 "axis":{"grid":false,"domainColor":"#000","domainWidth":1,"tickColor":"#000","tickSize":5,"labelColor":"#000","labelFontSize":8.5,"labelPadding":2,"titleColor":"#000","titleFontSize":12.5,"titleFontWeight":"bold"},
 "axisX":{"titlePadding":9},
 "axisY":{"titlePadding":2,"titleFontSize":13},
 "legend":{"titleFontSize":11,"titleFontWeight":"normal","titleColor":"#222","titleAnchor":"middle","titlePadding":7,"labelFontSize":9.5,"labelColor":"#222","labelOffset":3,"labelLimit":300,"symbolSize":100,"symbolStrokeWidth":1,"rowPadding":1,"padding":0,"symbolFillColor":"transparent"}
}
}
